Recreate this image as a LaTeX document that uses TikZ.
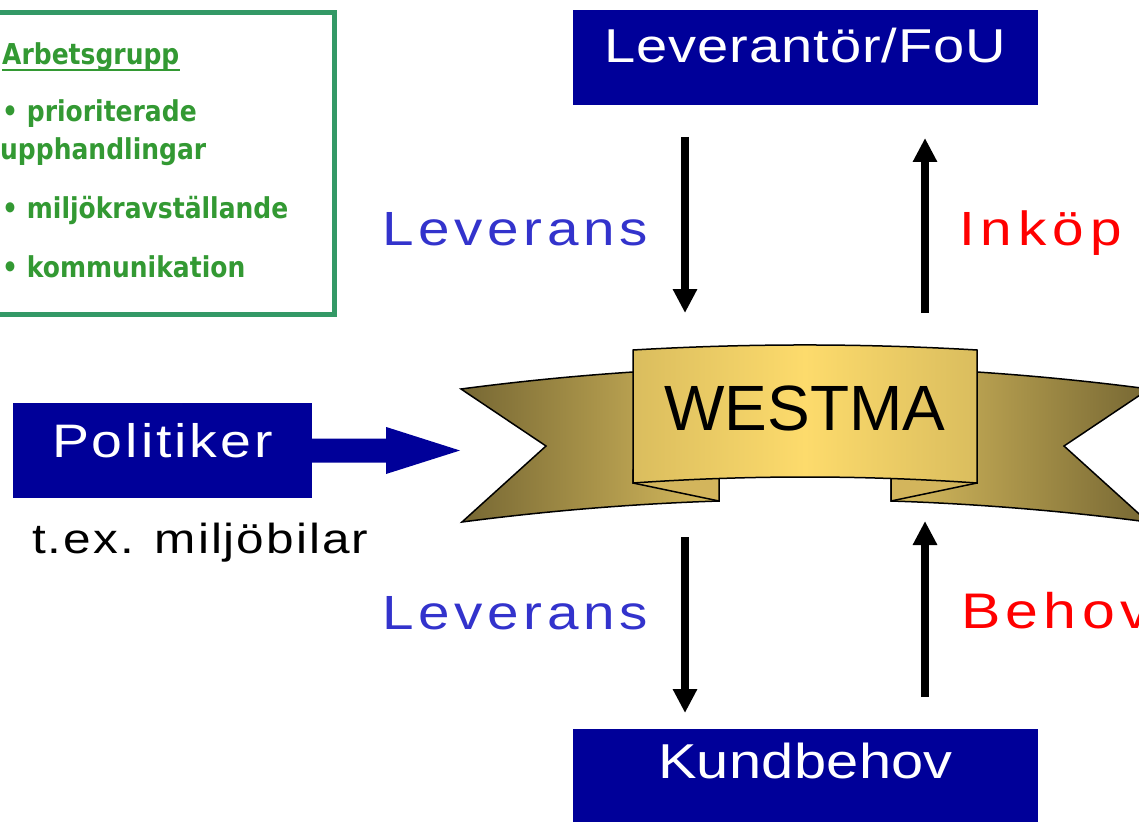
\documentclass[tikz,border=0pt]{standalone}
\usepackage{fontspec}
\usepackage{graphicx}
\setmainfont{Liberation Sans}
\newfontfamily\grf{DejaVu Sans}
\usetikzlibrary{arrows.meta}
\definecolor{boxblue}{HTML}{000099}
\definecolor{levblue}{HTML}{3333CC}
\definecolor{grtext}{HTML}{339933}
\definecolor{grframe}{HTML}{339966}
\definecolor{ribdark}{HTML}{766733}
\definecolor{ribmid}{HTML}{D8BC5E}
\definecolor{foldcol}{HTML}{D3B55C}
\definecolor{panmid}{HTML}{FDDB6C}
\definecolor{panedge}{HTML}{DABD5E}
\newcommand\wtxt[2]{\scalebox{#1}[1]{#2}}
\newcommand\grtxt[1]{\scalebox{1}[1.15]{#1}}
\newcommand\lsf[2]{\fontsize{#1}{#1}\selectfont\addfontfeature{LetterSpace=#2}}
\begin{document}
\begin{tikzpicture}[x=1pt,y=-1pt,
  bluebox/.style={fill=boxblue, text=white, inner sep=0pt},
  lbl/.style={inner sep=0pt, anchor=base west},
  grn/.style={inner sep=0pt, anchor=base west, text=grtext, font={\grf\bfseries\fontsize{25}{30}\selectfont}},
  flow/.style={line width=8pt, -{Triangle[length=24pt,width=23pt]}},
  ribbon/.style={draw=black, line width=1.5pt, line join=miter}]
\useasboundingbox (0,0) rectangle (1139,821);
\begin{scope}
\clip (0,0) rectangle (1139,821);
% working group box
\node[draw=grframe, line width=5pt, minimum width=342pt, minimum height=302pt, anchor=north west, inner sep=0pt] (grp) at (-10,10) {};
\node[grn] (ag) at (2,65) {\grtxt{Arbetsgrupp}};
\draw[grtext, line width=2pt] ([yshift=-5pt]ag.base west) -- ([yshift=-5pt]ag.base east);
\node[grn] (g1) at (2,122) {\grtxt{• prioriterade}};
\node[grn] (g2) at (0,160) {\grtxt{upphandlingar}};
\node[grn] (g3) at (2,218) {\grtxt{• miljökravställande}};
\node[grn] (g4) at (2,277) {\grtxt{• kommunikation}};
% blue boxes
\node[bluebox, minimum width=465pt, text height=53pt, text depth=42pt, font={\lsf{47.5}{1.7}}] (lev) at (805.5,57.5) {\wtxt{1.18}{Leverantör/FoU}};
\node[bluebox, minimum width=465pt, text height=49pt, text depth=46pt, font={\lsf{49}{0.5}}] (kund) at (805.5,776.5) {\wtxt{1.18}{Kundbehov}};
\node[bluebox, minimum width=299pt, text height=54pt, text depth=41pt, font={\lsf{47}{5.3}}] (pol) at (162.5,450.5) {\wtxt{1.18}{Politiker}};
\node[lbl, font={\lsf{42}{4}}] (tex) at (32,553) {\wtxt{1.18}{t.ex. miljöbilar}};
% banner
\draw[ribbon, left color=ribdark, right color=ribmid] (461,389) .. controls (547,377.7) and (633,370.6) .. (719,367.7) -- (719,501) .. controls (633.3,503.8) and (547.7,510.8) .. (462,522) -- (546,446) -- cycle;
\draw[ribbon, left color=ribmid, right color=ribdark] (1149,389) .. controls (1063,377.7) and (977,370.6) .. (891,367.7) -- (891,501) .. controls (976.7,503.8) and (1062.3,510.8) .. (1148,522) -- (1064,446) -- cycle;
\draw[ribbon, fill=foldcol] (633,470) -- (633,483) -- (719,501) -- (719,470) -- cycle;
\draw[ribbon, fill=foldcol] (977,470) -- (977,483) -- (891,501) -- (891,470) -- cycle;
\draw[ribbon, left color=panedge, right color=panedge, middle color=panmid] (633,350) .. controls (748,343.3) and (862,343.3) .. (977,350) -- (977,483) .. controls (862,475) and (748,475) .. (633,483) -- cycle;
\node[inner sep=0pt, anchor=base, font={\fontsize{64}{64}\selectfont}] (wm) at (805,430) {WESTMA};
% politiker arrow
\coordinate (poltip) at (460,450.5);
\fill[boxblue] (pol.east) ++(0,-12) -- ++(74,0) -- ++(0,-11.5) -- (poltip) -- ++(-74,23.5) -- ++(0,-11.5) -- ++(-74,0) -- cycle;
% flow arrows
\coordinate (d1s) at (685,137); \coordinate (d1e) at (685,313);
\coordinate (u1s) at (925,313); \coordinate (u1e) at (925,138);
\coordinate (d2s) at (685,537); \coordinate (d2e) at (685,713);
\coordinate (u2s) at (925,697); \coordinate (u2e) at (925,521);
\draw[flow] (d1s) -- (d1e);
\draw[flow] (u1s) -- (u1e);
\draw[flow] (d2s) -- (d2e);
\draw[flow] (u2s) -- (u2e);
% labels
\node[lbl, text=levblue, font={\lsf{48}{8.2}}] (lv1) at (382,245) {\wtxt{1.18}{Leverans}};
\node[lbl, text=red, font={\lsf{48}{10.6}}] (ink) at (959,245) {\wtxt{1.18}{Inköp}};
\node[lbl, text=levblue, font={\lsf{48}{8.2}}] (lv2) at (382,629) {\wtxt{1.18}{Leverans}};
\node[lbl, text=red, font={\lsf{50}{9}}] (beh) at (961,628) {\wtxt{1.18}{Behov}};
\end{scope}
\end{tikzpicture}
\end{document}
